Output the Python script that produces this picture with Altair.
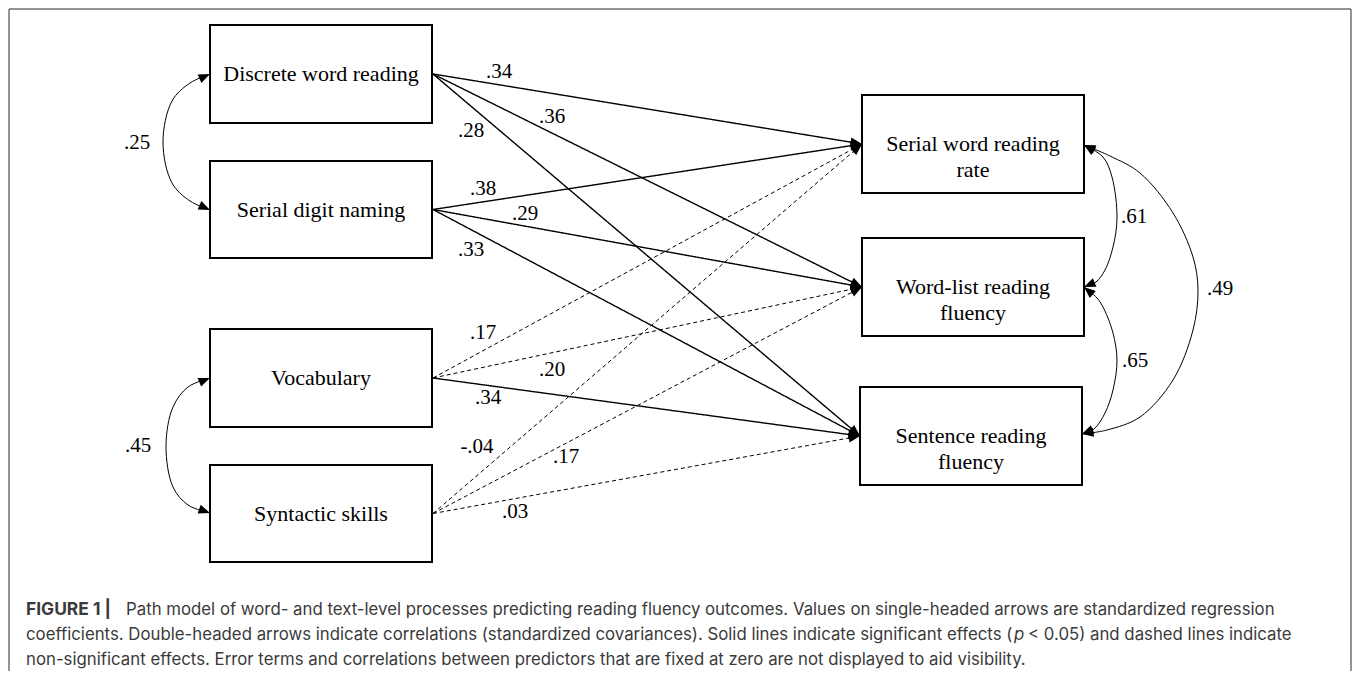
import math
import altair as alt
import pandas as pd

# ---------------- content ----------------
predictors = ["Discrete word reading", "Serial digit naming", "Vocabulary", "Syntactic skills"]
outcomes = ["Serial word reading\nrate", "Word-list reading\nfluency", "Sentence reading\nfluency"]

# standardized regression coefficients (rows = predictors, cols = outcomes)
coefficients = [
    [".34", ".36", ".28"],
    [".38", ".29", ".33"],
    [".17", ".20", ".34"],
    ["-.04", ".17", ".03"],
]
significant = [
    [True, True, True],
    [True, True, True],
    [False, False, True],
    [False, False, False],
]
coef_label_x = [[499, 552, 471], [483, 525, 471], [483, 552, 488], [477, 566, 515]]
coef_label_y = [[72, 117, 131], [189, 214, 250], [333, 370, 398], [447, 457, 512]]

# correlations (double-headed arrows)
correlations = [".25", ".45", ".61", ".65", ".49"]
corr_label_x = [137, 138, 1134, 1135, 1220]
corr_label_y = [143, 446, 217, 361, 289]
corr_curve_x = [
    [210, 190, 172, 163, 172, 190, 210],
    [210, 188, 173, 166, 173, 188, 210],
    [1084, 1103, 1112, 1117, 1113, 1105, 1096, 1084],
    [1084, 1097, 1104, 1113, 1117, 1113, 1105, 1094, 1082],
    [1084, 1110, 1140, 1173, 1193, 1198, 1193, 1173, 1140, 1107, 1082],
]
corr_curve_y = [
    [74, 83, 101, 142, 183, 201, 210],
    [378, 387, 407, 446, 487, 505, 513],
    [145, 157, 177, 218, 247, 270, 282, 287],
    [287, 298, 309, 333, 360, 390, 413, 429, 434],
    [145, 156, 173, 213, 257, 290, 330, 380, 417, 430, 434],
]

# box layout (page pixels)
pred_box_left, pred_box_right = 210, 432
pred_box_top = [25, 161, 329, 465]
pred_box_bottom = [123, 258, 427, 562]
out_box_left = [862, 862, 860]
out_box_right = [1084, 1084, 1082]
out_box_top = [95, 238, 387]
out_box_bottom = [193, 336, 485]

caption_bold = "FIGURE 1 |"
caption_line1 = ("Path model of word- and text-level processes predicting reading fluency outcomes. "
                 "Values on single-headed arrows are standardized regression")
caption_line2a = ("coefficients. Double-headed arrows indicate correlations (standardized covariances). "
                  "Solid lines indicate significant effects (")
caption_line2p = "p"
caption_line2b = "< 0.05) and dashed lines indicate"
caption_line3 = ("non-significant effects. Error terms and correlations between predictors that are "
                 "fixed at zero are not displayed to aid visibility.")

# ---------------- tables ----------------
boxes = []
for i, name in enumerate(predictors):
    boxes.append(dict(x=pred_box_left, x2=pred_box_right, y=pred_box_top[i], y2=pred_box_bottom[i],
                      label=name, cx=(pred_box_left + pred_box_right) / 2,
                      cy=(pred_box_top[i] + pred_box_bottom[i]) / 2))
for j, name in enumerate(outcomes):
    boxes.append(dict(x=out_box_left[j], x2=out_box_right[j], y=out_box_top[j], y2=out_box_bottom[j],
                      label=name, cx=(out_box_left[j] + out_box_right[j]) / 2,
                      cy=(out_box_top[j] + out_box_bottom[j]) / 2))
boxes = pd.DataFrame(boxes)


def heading(dx, dy):
    return (math.degrees(math.atan2(dy, dx)) + 360) % 360


edges, heads, coef_labels = [], [], []
for i in range(len(predictors)):
    sx = pred_box_right + 1
    sy = (pred_box_top[i] + pred_box_bottom[i]) / 2
    for j in range(len(outcomes)):
        tx = out_box_left[j]
        ty = (out_box_top[j] + out_box_bottom[j]) / 2
        edges.append(dict(x=sx, y=sy, x2=tx, y2=ty, sig="yes" if significant[i][j] else "no"))
        heads.append(dict(x=tx, y=ty, ang=heading(tx - sx, ty - sy)))
        coef_labels.append(dict(x=coef_label_x[i][j], y=coef_label_y[i][j], text=coefficients[i][j]))
edges = pd.DataFrame(edges)
coef_labels = pd.DataFrame(coef_labels)

curves, corr_labels = [], []
for c, (xs_, ys_) in enumerate(zip(corr_curve_x, corr_curve_y)):
    for k, (px, py) in enumerate(zip(xs_, ys_)):
        curves.append(dict(cid=c, i=k, x=px, y=py))
    heads.append(dict(x=xs_[0], y=ys_[0], ang=heading(xs_[0] - xs_[1], ys_[0] - ys_[1])))
    heads.append(dict(x=xs_[-1], y=ys_[-1], ang=heading(xs_[-1] - xs_[-2], ys_[-1] - ys_[-2])))
    corr_labels.append(dict(x=corr_label_x[c], y=corr_label_y[c], text=correlations[c]))
curves = pd.DataFrame(curves)
heads = pd.DataFrame(heads)
labels = pd.concat([coef_labels, pd.DataFrame(corr_labels)], ignore_index=True)

cap_normal = pd.DataFrame([
    dict(x=126, y=615, text=caption_line1),
    dict(x=26, y=640, text=caption_line2a),
    dict(x=1028, y=640, text=caption_line2b),
    dict(x=26, y=665, text=caption_line3),
])
cap_bold = pd.DataFrame([dict(x=26, y=615, text=caption_bold)])
cap_italic = pd.DataFrame([dict(x=1014, y=640, text=caption_line2p)])

frame = pd.DataFrame([
    dict(x=9, y=9, x2=9, y2=671),
    dict(x=9, y=9, x2=1351, y2=9),
    dict(x=1351, y=9, x2=1351, y2=671),
])

# ---------------- chart ----------------
XS = alt.Scale(domain=[8, 1352], nice=False, zero=False)
YS = alt.Scale(domain=[8, 671], reverse=True, nice=False, zero=False)


def X(f="x"):
    return alt.X(f + ":Q", scale=XS, axis=None)


def Y(f="y"):
    return alt.Y(f + ":Q", scale=YS, axis=None)


frame_layer = alt.Chart(frame).mark_rule(color="#707070", strokeWidth=1.5).encode(
    x=X(), y=Y(), x2="x2:Q", y2="y2:Q")

edge_layer = alt.Chart(edges).mark_rule(color="black").encode(
    x=X(), y=Y(), x2="x2:Q", y2="y2:Q",
    strokeDash=alt.StrokeDash("sig:N", scale=alt.Scale(domain=["yes", "no"], range=[[1, 0], [4, 3]]),
                              legend=None),
    strokeWidth=alt.StrokeWidth("sig:N", scale=alt.Scale(domain=["yes", "no"], range=[1.4, 1.0]),
                                legend=None),
)

curve_layer = alt.Chart(curves).mark_line(color="black", strokeWidth=1.0, interpolate="catmull-rom").encode(
    x=X(), y=Y(), detail="cid:N", order="i:Q")

box_layer = alt.Chart(boxes).mark_rect(fill="white", stroke="black", strokeWidth=2).encode(
    x=X(), x2="x2:Q", y=Y(), y2="y2:Q")

box_text = alt.Chart(boxes).mark_text(font="Liberation Serif", fontSize=22, lineBreak="\n",
                                      lineHeight=26, align="center", baseline="middle",
                                      color="black").encode(
    x=X("cx"), y=Y("cy"), text="label:N")

head_layer = alt.Chart(heads).mark_point(shape="M0,0L-1,-0.4L-1,0.4Z", filled=True, size=529,
                                         color="black", opacity=1, strokeWidth=0).encode(
    x=X(), y=Y(), angle=alt.Angle("ang:Q", scale=None))

label_layer = alt.Chart(labels).mark_text(font="Liberation Serif", fontSize=21, align="center",
                                          baseline="middle", color="black").encode(
    x=X(), y=Y(), text="text:N")

cap_font = "Inter"
cap_size = 16.8
cap_color = "#3a3a3a"
cap_n = alt.Chart(cap_normal).mark_text(font=cap_font, fontSize=cap_size, align="left",
                                        baseline="alphabetic", color=cap_color).encode(
    x=X(), y=Y(), text="text:N")
cap_b = alt.Chart(cap_bold).mark_text(font=cap_font, fontSize=cap_size + 0.6, fontWeight="bold",
                                      align="left", baseline="alphabetic", color=cap_color).encode(
    x=X(), y=Y(), text="text:N")
cap_i = alt.Chart(cap_italic).mark_text(font=cap_font, fontSize=cap_size, fontStyle="italic",
                                        align="left", baseline="alphabetic", color=cap_color).encode(
    x=X(), y=Y(), text="text:N")

chart = alt.layer(
    frame_layer, edge_layer, curve_layer, box_layer, box_text, head_layer, label_layer,
    cap_n, cap_b, cap_i,
).properties(
    width=1344, height=663, padding=0,
    autosize=alt.AutoSizeParams(type="none"),
).configure_view(stroke=None)

chart.save("out.html", embed_options={"renderer": "svg", "actions": False})
